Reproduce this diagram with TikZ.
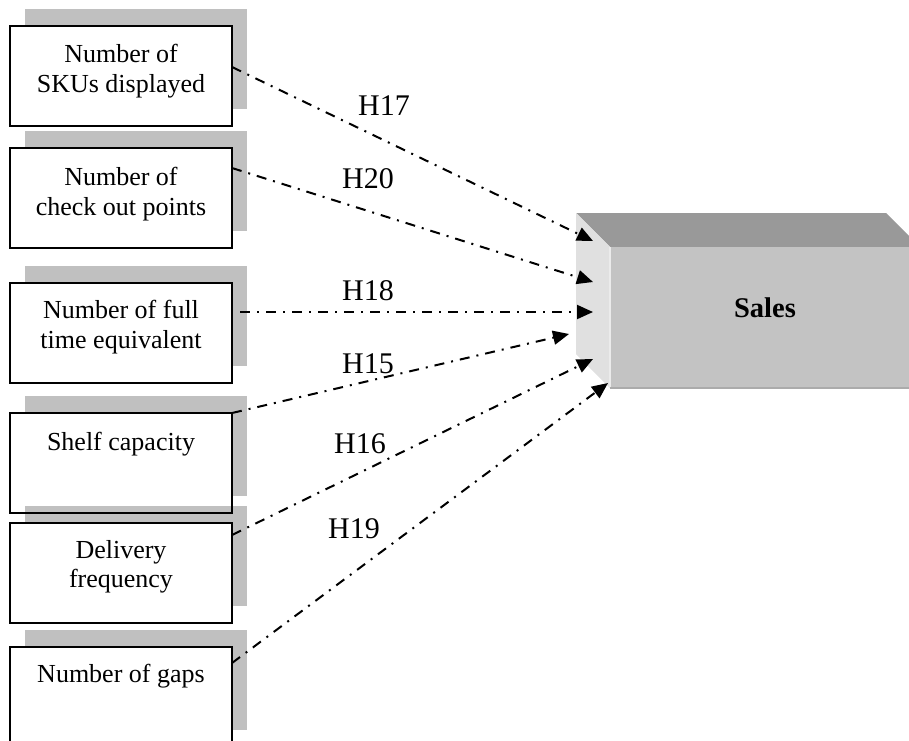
\documentclass[tikz,border=0pt]{standalone}
\usepackage{fontspec}
\setmainfont{Liberation Serif}
\usetikzlibrary{arrows.meta,shadows,calc}
\definecolor{shade}{HTML}{C0C0C0}
\definecolor{salesfront}{HTML}{C3C3C3}
\definecolor{salestop}{HTML}{999999}
\definecolor{salesside}{HTML}{E0E0E0}

\begin{document}
\begin{tikzpicture}[x=1pt,y=-1pt,
  factor/.style={rectangle, anchor=north west, minimum width=222pt,
    minimum height=100pt, inner sep=0pt, outer sep=0pt, fill=white,
    general shadow={shadow xshift=15pt, shadow yshift=17pt, fill=shade}},
  factortext/.style={anchor=north, inner sep=0pt, align=center,
    font=\fontsize{26}{29.5}\selectfont},
  boxedge/.style={line width=1.7pt},
  hyp/.style={line width=2pt, dash pattern=on 10pt off 7pt on 2pt off 7pt,
    -{Triangle[length=16pt,width=14pt]}},
  hlabel/.style={anchor=base, inner sep=0pt, font=\fontsize{30}{34}\selectfont}
]
\useasboundingbox (0,0) rectangle (909,740);
\clip (0,0) rectangle (909,740);

% Sales block drawn as a bevelled 3-D box
\fill[salestop] (576,213) -- (886,213) -- (920,247) -- (610,247) -- cycle;
\fill[salesside] (576,213) -- (610,247) -- (610,388) -- (576,354) -- cycle;
\node[rectangle, fill=salesfront, minimum width=310pt, minimum height=141pt,
  inner sep=0pt, outer sep=0pt, anchor=north west] (sales) at (610,247) {};
\draw[white!92!black, line width=1.5pt] (sales.north west) -- (sales.south west);
\draw[black!33, line width=1.2pt] (sales.south west) -- (sales.south east);
\node[font=\bfseries\fontsize{28.5}{32}\selectfont, anchor=base, inner sep=0pt]
  (salestext) at (765,317) {Sales};

% Factor boxes with their offset shadows
\node[factor] (b1) at (10,26) {};
\node[factor] (b2) at (10,148) {};
\node[factor] (b3) at (10,283) {};
\node[factor] (b4) at (10,413) {};
\node[factor] (b5) at (10,523) {};
\node[factor] (b6) at (10,647) {};
\foreach \b in {b1,b2,b3,b4,b5,b6}
  \draw[boxedge] (\b.north west) rectangle (\b.south east);

\node[factortext] (t1) at ($(b1.north)+(0,18)$) {Number of\\SKUs displayed};
\node[factortext] (t2) at ($(b2.north)+(0,19)$) {Number of\\check out points};
\node[factortext] (t3) at ($(b3.north)+(0,17)$) {Number of full\\time equivalent};
\node[factortext] (t4) at ($(b4.north)+(0,19)$) {Shelf capacity};
\node[factortext] (t5) at ($(b5.north)+(0,17)$) {Delivery\\frequency};
\node[factortext] (t6) at ($(b6.north)+(0,17)$) {Number of gaps};

% Arrow targets on the side face of the Sales block
\coordinate (s1) at (593,241);
\coordinate (s2) at (593,282);
\coordinate (s3) at (593,312);
\coordinate (s4) at (569,334);
\coordinate (s5) at (593,359);
\coordinate (s6) at (608,383);

\draw[hyp] ($(b1.north east)+(0,41)$) -- (s1);
\draw[hyp] ($(b2.north east)+(0,20)$) -- (s2);
\draw[hyp] ($(b3.north east)+(8,29)$) -- (s3);
\draw[hyp] (b4.north east) -- (s4);
\draw[hyp] ($(b5.north east)+(0,12)$) -- (s5);
\draw[hyp] ($(b6.north east)+(0,16)$) -- (s6);

% Hypothesis labels
\node[hlabel] (h17) at (384,115) {H17};
\node[hlabel] (h20) at (368,188) {H20};
\node[hlabel] (h18) at (368,300) {H18};
\node[hlabel] (h15) at (368,373) {H15};
\node[hlabel] (h16) at (360,453) {H16};
\node[hlabel] (h19) at (354,538) {H19};
\end{tikzpicture}
\end{document}
